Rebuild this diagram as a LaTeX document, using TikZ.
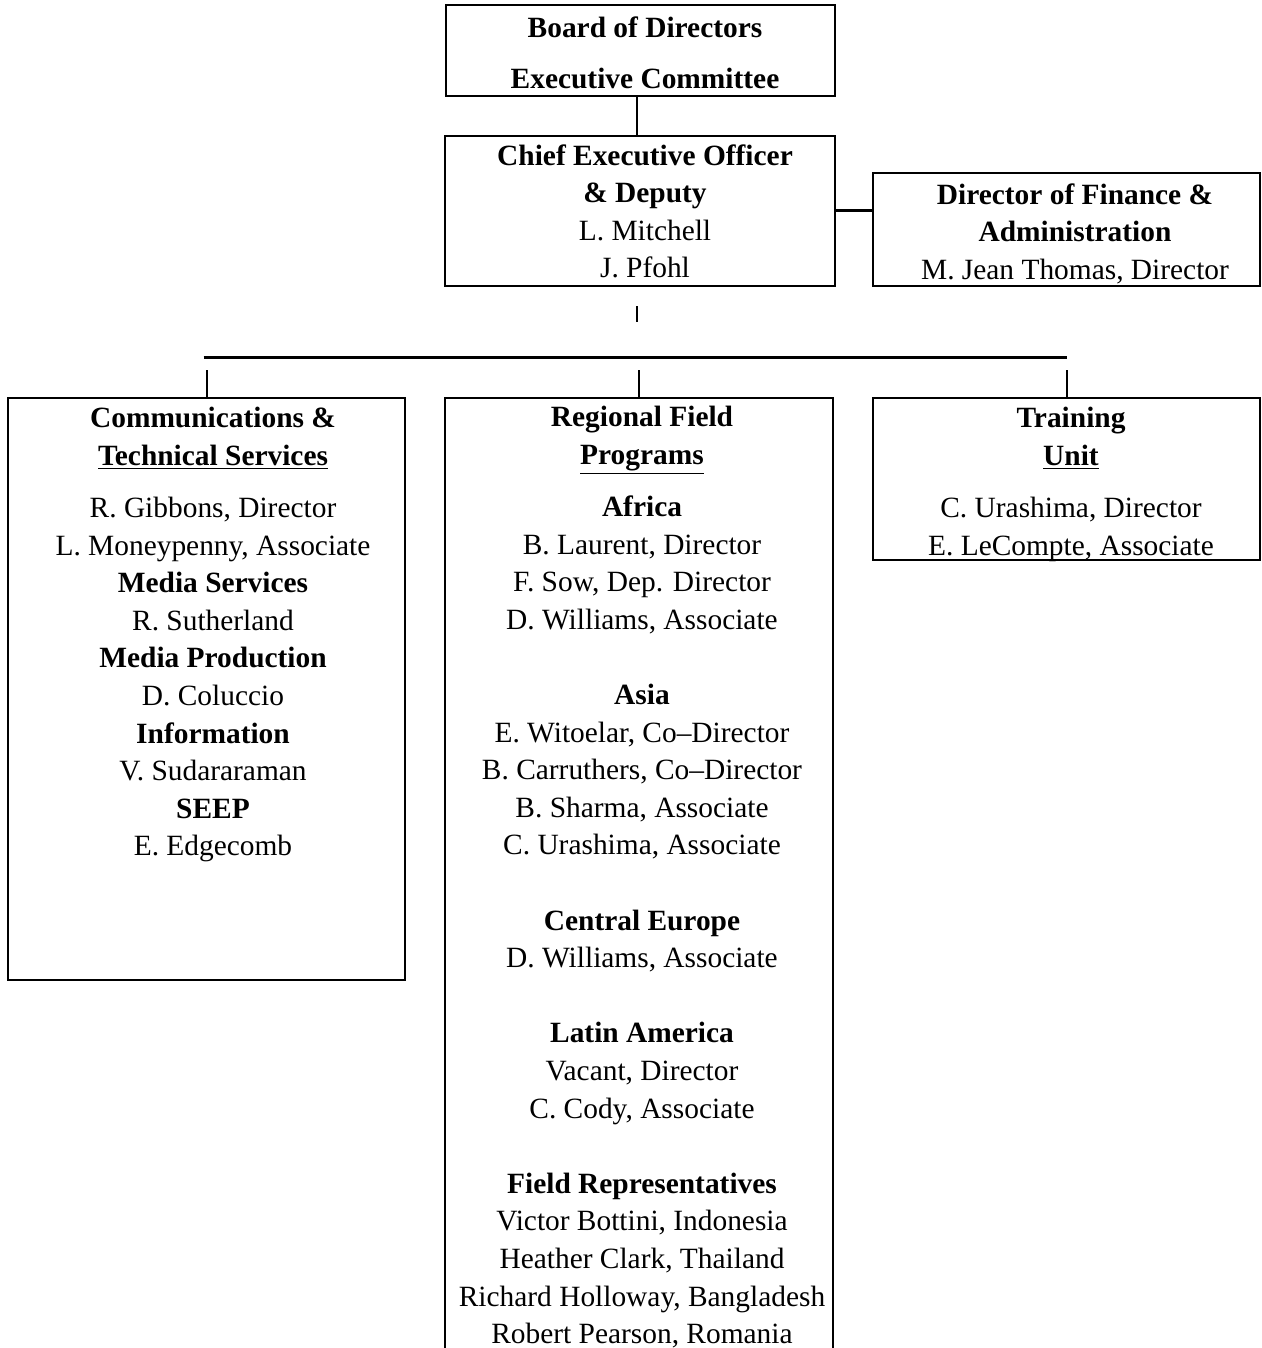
\documentclass[tikz,border=0pt]{standalone}
\usepackage{fontspec}
\setmainfont{Liberation Serif}
\usepackage{tikz}
\usetikzlibrary{
    fit,
    calc
}
\tikzset{
    unitbox/.style={draw, line width=1pt, inner sep=0pt},
    unittext/.style={align=center, inner sep=0pt, anchor=north,
        font=\fontsize{14.7}{18.8}\selectfont},
    link/.style={line width=1pt},
    buslink/.style={line width=1.5pt}
}

\begin{document}
\begin{tikzpicture}[x=0.5pt, y=-0.5pt]
    \useasboundingbox (0, 0) rectangle (1262, 1348);
    \clip (0, 0) rectangle (1262, 1348);

    \node[unitbox, fit={(446, 5) (835, 96)}] (board) {};
    \node[unitbox, fit={(445, 136) (835, 286)}] (ceo) {};
    \node[unitbox, fit={(873, 173) (1260, 286)}] (finance) {};
    \node[unitbox, fit={(8, 398) (405, 980)}] (comm) {};
    \node[unitbox, fit={(445, 398) (833, 1400)}] (regional) {};
    \node[unitbox, fit={(873, 398) (1260, 560)}] (training) {};

    \node[unittext] (boardtxt) at (645, 16) {\textbf{Board of Directors}\\[6.7pt]
        \textbf{Executive Committee}};
    \node[unittext] (ceotxt) at (645, 144) {\textbf{Chief Executive Officer}\\
        \textbf{\& Deputy}\\ L. Mitchell\\ J. Pfohl};
    \node[unittext] (financetxt) at (1075, 183) {\textbf{Director of Finance \&}\\
        \textbf{Administration}\\ M. Jean Thomas, Director};

    \node[unittext] (commtxt) at (213, 407) {\textbf{Communications \&}\\
        \textbf{\underline{Technical Services}}\\[7.2pt]
        R. Gibbons, Director\\ L. Moneypenny, Associate\\
        \textbf{Media Services}\\ R. Sutherland\\
        \textbf{Media Production}\\ D. Coluccio\\
        \textbf{Information}\\ V. Sudararaman\\
        \textbf{SEEP}\\ E. Edgecomb};
    \node[unittext] (regionaltxt) at (642, 406) {\textbf{Regional Field}\\
        \textbf{\underline{Programs}}\\[7.2pt]
        \textbf{Africa}\\ B. Laurent, Director\\ F. Sow, Dep. Director\\
        D. Williams, Associate\\[18.8pt]
        \textbf{Asia}\\ E. Witoelar, Co–Director\\ B. Carruthers, Co–Director\\
        B. Sharma, Associate\\ C. Urashima, Associate\\[18.8pt]
        \textbf{Central Europe}\\ D. Williams, Associate\\[18.8pt]
        \textbf{Latin America}\\ Vacant, Director\\ C. Cody, Associate\\[18.8pt]
        \textbf{Field Representatives}\\ Victor Bottini, Indonesia\\
        Heather Clark, Thailand\\ Richard Holloway, Bangladesh\\
        Robert Pearson, Romania};
    \node[unittext] (trainingtxt) at (1071, 407) {\textbf{Training}\\
        \textbf{\underline{Unit}}\\[7.2pt]
        C. Urashima, Director\\ E. LeCompte, Associate};

    \coordinate (bus) at (637, 357);

    \draw[link] (board.south -| bus) -- (ceo.north -| bus);
    \draw[buslink] (ceo.east) -- (ceo.east -| finance.west);
    \draw[link, shorten <=9.5pt, shorten >=17.5pt] (ceo.south -| bus) -- (bus);
    \draw[buslink] ($(comm.north |- bus)+(-3, 0)$) -- (training.north |- bus);

    \draw[link, shorten <=6.5pt] (comm.north |- bus) -- (comm.north);
    \draw[link, shorten <=6.5pt] (regional.north |- bus) -- (regional.north);
    \draw[link, shorten <=6.5pt] (training.north |- bus) -- (training.north);
\end{tikzpicture}
\end{document}
